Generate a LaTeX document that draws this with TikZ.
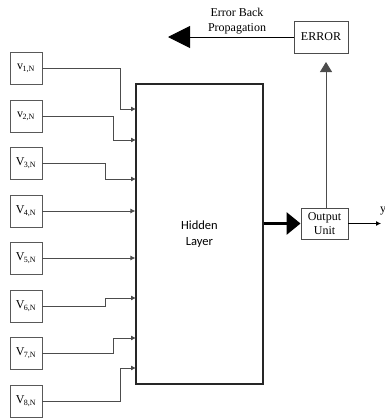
\documentclass[tikz,border=0pt]{standalone}
\usepackage{fontspec}
\setmainfont{Liberation Serif}
\newfontfamily\hiddenfont{Carlito}
\usepackage{tikz}
\usetikzlibrary{arrows.meta}
\newcommand{\vin}[2]{#1\textsubscript{\kern-0.5pt\footnotesize #2,N}}

\begin{document}
\begin{tikzpicture}[x=1pt,y=-1pt,
    inbox/.style={draw=black!65, line width=0.9pt, minimum width=32pt, minimum height=32pt, inner sep=0pt, font=\fontsize{12}{14}\selectfont},
    unitbox/.style={draw=black!70, line width=0.9pt, inner sep=2pt, align=center, font=\fontsize{12}{15}\selectfont},
    inarrow/.style={draw=black!70, line width=0.8pt, -{Latex[length=5pt,width=5pt]}}]
            \useasboundingbox (0,0) rectangle (385,418);

            % input units
            \node[inbox] (v1) at (26,68) {\vin{v}{1}};
            \node[inbox] (v2) at (26,116) {\vin{v}{2}};
            \node[inbox] (v3) at (26,163) {\vin{V}{3}};
            \node[inbox] (v4) at (26,211) {\vin{V}{4}};
            \node[inbox] (v5) at (26,258) {\vin{V}{5}};
            \node[inbox] (v6) at (26,306) {\vin{V}{6}};
            \node[inbox] (v7) at (26,353) {\vin{V}{7}};
            \node[inbox] (v8) at (26,401) {\vin{V}{8}};

            % hidden layer
            \node[draw=black!85, line width=1.3pt, minimum width=127pt, minimum height=300pt, font=\hiddenfont\fontsize{12.5}{16}\selectfont, align=center] (hidden) at (199.5,234) {Hidden\\Layer};

            \coordinate (h1) at (136,109);
            \coordinate (h2) at (136,140);
            \coordinate (h3) at (136,179);
            \coordinate (h6) at (136,298);
            \coordinate (h7) at (136,338);
            \coordinate (h8) at (136,368);

            \draw[inarrow] (v1.east) -| (120,109) -- (h1);
            \draw[inarrow] (v2.east) -| (113,140) -- (h2);
            \draw[inarrow] (v3.east) -| (105,179) -- (h3);
            \draw[inarrow] (v4.east) -- (v4.east -| hidden.west);
            \draw[inarrow] (v5.east) -- (v5.east -| hidden.west);
            \draw[inarrow] (v6.east) -| (105,298) -- (h6);
            \draw[inarrow] (v7.east) -| (113,338) -- (h7);
            \draw[inarrow] (v8.east) -| (120,368) -- (h8);

            % output and error
            \node[unitbox, minimum width=47pt, minimum height=31pt] (out) at (324.5,223.5) {Output\\[-1pt]Unit};
            \node[unitbox, minimum width=54pt, minimum height=32pt] (err) at (321,37) {ERROR};

            \draw[line width=3pt, -{Triangle[length=14pt,width=22pt]}] (hidden.east |- out.west) -- (out.west);
            \coordinate (y) at (381,223.5);
            \draw[line width=0.8pt, -{Latex[length=5pt,width=5pt]}] (out.east) -- (y);
            \node[font=\fontsize{12}{14}\selectfont] (ylabel) at (383,211) {y};

            \coordinate (errin) at (326,62);
            \draw[black!70, line width=0.9pt, -{Triangle[length=10pt,width=12pt]}] (errin |- out.north) -- (errin);

            \coordinate (bp) at (168,37);
            \draw[line width=1pt, -{Triangle[length=22pt,width=22pt]}] (err.west) -- (bp);
            \node[align=center, font=\fontsize{12}{15}\selectfont] (bplabel) at (237,21) {Error Back\\Propagation};
        \end{tikzpicture}
\end{document}
